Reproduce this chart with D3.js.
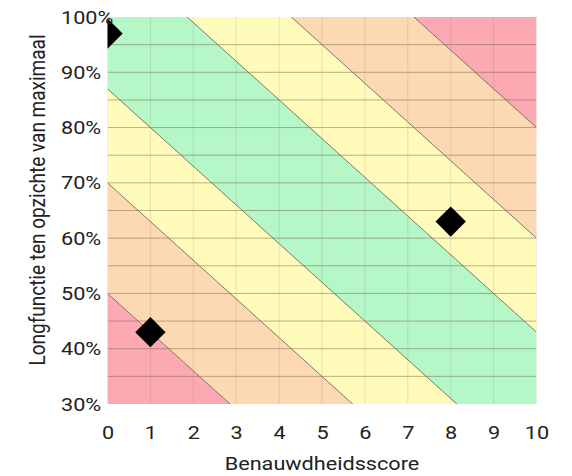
<!DOCTYPE html>
<meta charset="utf-8">
<head>
  <title>Benauwdheid vs longfunctie</title>
</head>
<body style="margin:0;background:#fff">
<style>
.tick text { font: 19px Roboto, sans-serif; fill: #222; }
.title { font: 19px Roboto, sans-serif; fill: #222; }
</style>
<svg width="572" height="476"></svg>
<script src="https://d3js.org/d3.v7.min.js"></script>
<script>

// measurements (x = benauwdheidsscore, y = % of max lung function)
var scores = [0, 1, 8];
var lungFunction = [97, 43, 63];

// zone boundaries: y = intercept - 7 * x
var zoneSlope = -7;
var zoneIntercepts = [-200, 50, 70, 87, 113, 130, 150, 400];
var zoneColors = ["#fbaab4", "#fcd9b3", "#fffbbb", "#b5f7c6", "#fffbbb", "#fcd9b3", "#fbaab4"];

var xTicks = [0, 1, 2, 3, 4, 5, 6, 7, 8, 9, 10];
var yTicks = [30, 40, 50, 60, 70, 80, 90, 100];
var yGrid = [35, 40, 45, 50, 55, 60, 65, 70, 75, 80, 85, 90, 95];

var svg = d3.select("svg"),
    pL = 107.5, pR = 536.5, pT = 17, pB = 404,
    stretch = "scale(1.14,1)";   // the text looks a bit wide in the original

var x = d3.scaleLinear().domain([0, 10]).range([pL, pR]);
var y = d3.scaleLinear().domain([30, 100]).range([pB, pT]);

svg.append("clipPath").attr("id", "plot")
  .append("rect").attr("x", pL).attr("y", pT)
  .attr("width", pR - pL).attr("height", pB - pT);

var g = svg.append("g").attr("clip-path", "url(#plot)");

var zones = d3.range(zoneColors.length).map(function(i) {
  return { lo: zoneIntercepts[i], hi: zoneIntercepts[i + 1], color: zoneColors[i] };
});

var area = d3.area()
    .x(function(d) { return x(d.x); })
    .y0(function(d) { return y(d.lo + zoneSlope * d.x); })
    .y1(function(d) { return y(d.hi + zoneSlope * d.x); });

g.selectAll(".zone")
  .data(zones)
  .enter().append("path")
    .attr("class", "zone")
    .attr("fill", function(d) { return d.color; })
    .attr("d", function(d) {
      return area([0, 10].map(function(v) { return { x: v, lo: d.lo, hi: d.hi }; }));
    });

// grid
g.selectAll(".vgrid")
  .data(xTicks)
  .enter().append("line")
    .attr("x1", function(d) { return x(d); }).attr("x2", function(d) { return x(d); })
    .attr("y1", pT).attr("y2", pB)
    .attr("stroke", "rgba(110,90,70,0.15)");

g.selectAll(".hgrid")
  .data(yGrid)
  .enter().append("line")
    .attr("x1", pL).attr("x2", pR)
    .attr("y1", function(d) { return y(d); }).attr("y2", function(d) { return y(d); })
    .attr("stroke", "rgba(110,85,60,0.45)");

// zone boundary lines
var line = d3.line()
    .x(function(d) { return x(d.x); })
    .y(function(d) { return y(d.c + zoneSlope * d.x); });

g.selectAll(".edge")
  .data(zoneIntercepts.slice(1, -1))
  .enter().append("path")
    .attr("fill", "none")
    .attr("stroke", "#6f6a55")
    .attr("stroke-width", 0.9)
    .attr("d", function(c) { return line([0, 10].map(function(v) { return { x: v, c: c }; })); });

// markers
g.selectAll(".pt")
  .data(scores)
  .enter().append("path")
    .attr("d", d3.symbol(d3.symbolSquare, 460))
    .attr("fill", "#000")
    .attr("transform", function(d, i) {
      return "translate(" + x(d) + "," + y(lungFunction[i]) + ") rotate(45)";
    });

// axes
var xAxis = svg.append("g")
    .attr("transform", "translate(0," + pB + ")")
    .call(d3.axisBottom(x).tickValues(xTicks).tickSize(0).tickPadding(22));
xAxis.select(".domain").remove();
xAxis.selectAll("text").attr("transform", stretch);

var yAxis = svg.append("g")
    .attr("transform", "translate(" + pL + ",0)")
    .call(d3.axisLeft(y).tickValues(yTicks).tickSize(0)
      .tickFormat(function(d) { return d + "%"; }));
yAxis.select(".domain").remove();
yAxis.selectAll("text")
    .attr("x", 0)
    .attr("text-anchor", "start")
    .attr("transform", "translate(-46.5,0) " + stretch);

svg.append("text").attr("class", "title")
  .attr("transform", "translate(" + (pL + pR) / 2 + ",470) " + stretch)
  .attr("text-anchor", "middle")
  .text("Benauwdheidsscore");

svg.append("text").attr("class", "title")
  .attr("transform", "translate(45,200) " + stretch + " rotate(-90)")
  .attr("text-anchor", "middle")
  .text("Longfunctie ten opzichte van maximaal");

</script>
</body>
</html>
